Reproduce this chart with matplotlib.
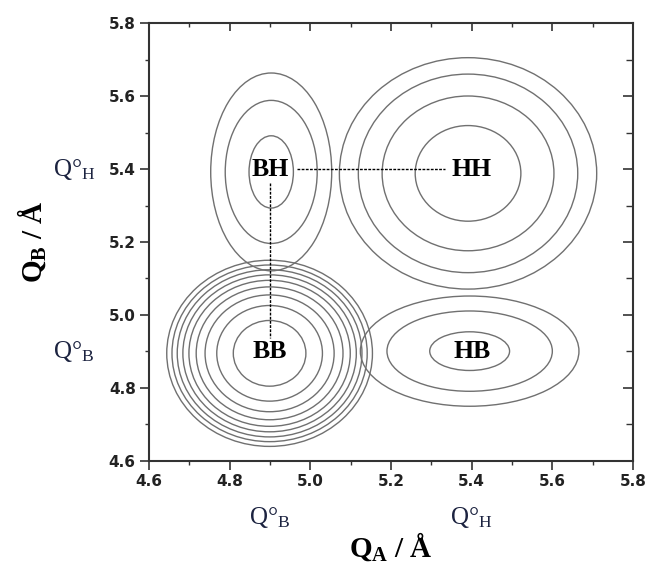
import matplotlib
matplotlib.use('Agg')
import matplotlib.pyplot as plt
from matplotlib.patches import Ellipse
from matplotlib.ticker import MultipleLocator

plt.rcParams['mathtext.fontset'] = 'custom'
plt.rcParams['mathtext.rm'] = 'Liberation Serif'
plt.rcParams['mathtext.bf'] = 'Liberation Serif:bold'
plt.rcParams['mathtext.it'] = 'Liberation Serif:italic'

# ---- data ----
labels = ['BH', 'HH', 'BB', 'HB']
label_x = [4.90, 5.40, 4.90, 5.40]
label_y = [5.40, 5.40, 4.90, 4.90]

center_x = [4.903, 5.391, 4.899, 5.395]
center_y = [5.392, 5.388, 4.895, 4.901]

# contour semi-axes (x, y) in Å for each well
bh_rx = [0.055, 0.114, 0.150]
bh_ry = [0.099, 0.196, 0.271]
hh_rx = [0.131, 0.213, 0.272, 0.319]
hh_ry = [0.131, 0.212, 0.272, 0.317]
bb_rx = [0.090, 0.131, 0.160, 0.182, 0.200, 0.215, 0.229, 0.242, 0.255]
bb_ry = [0.090, 0.131, 0.160, 0.182, 0.200, 0.215, 0.229, 0.242, 0.255]
hb_rx = [0.099, 0.205, 0.271]
hb_ry = [0.053, 0.110, 0.151]

radii_x = [bh_rx, hh_rx, bb_rx, hb_rx]
radii_y = [bh_ry, hh_ry, bb_ry, hb_ry]

# dotted connectors
h_line_x = [4.968, 5.335]
h_line_y = [5.400, 5.400]
v_line_x = [4.900, 4.900]
v_line_y = [5.362, 4.937]

xticks = [4.6, 4.8, 5.0, 5.2, 5.4, 5.6, 5.8]
yticks = [4.6, 4.8, 5.0, 5.2, 5.4, 5.6, 5.8]
ref_labels_x = [4.9, 5.4]
ref_labels_text_x = ['Q°$_{\\mathrm{B}}$', 'Q°$_{\\mathrm{H}}$']
ref_labels_y = [5.4, 4.9]
ref_labels_text_y = ['Q°$_{\\mathrm{H}}$', 'Q°$_{\\mathrm{B}}$']

# ---- figure ----
fig = plt.figure(figsize=(6.49, 5.63), dpi=100)
ax = fig.add_axes([149/649, (563-461)/563, 484/649, 438/563])

line_col = '#707070'
for cx, cy, rxs, rys in zip(center_x, center_y, radii_x, radii_y):
    for rx, ry in zip(rxs, rys):
        ax.add_patch(Ellipse((cx, cy), 2*rx, 2*ry, fill=False,
                             edgecolor=line_col, lw=1.0))

ax.plot(h_line_x, h_line_y, color='black', lw=1.0, linestyle=(0, (2, 1)))
ax.plot(v_line_x, v_line_y, color='black', lw=1.0, linestyle=(0, (2, 1)))

for t, x, y in zip(labels, label_x, label_y):
    ax.text(x, y, t, ha='center', va='center', fontsize=18.5,
            fontweight='bold', family='Liberation Serif', color='black')

ax.set_xlim(4.6, 5.8)
ax.set_ylim(4.6, 5.8)
ax.set_xticks(xticks)
ax.set_yticks(yticks)
ax.set_xticklabels([f'{v:.1f}' for v in xticks])
ax.set_yticklabels([f'{v:.1f}' for v in yticks])
ax.xaxis.set_minor_locator(MultipleLocator(0.1))
ax.yaxis.set_minor_locator(MultipleLocator(0.1))

for lab in ax.get_xticklabels() + ax.get_yticklabels():
    lab.set_fontfamily('DejaVu Sans')
    lab.set_fontweight('bold')
    lab.set_fontsize(11)
    lab.set_color('#222222')

ax.tick_params(axis='both', which='major', direction='out', length=6.5,
               width=1.2, color='#333333', pad=3)
ax.tick_params(axis='both', which='minor', direction='out', length=3,
               width=1.0, color='#333333')
for s in ax.spines.values():
    s.set_linewidth(1.5)
    s.set_color('#333333')

# inward ticks on top/right via secondary axes
sx = ax.secondary_xaxis('top')
sx.set_xticks(xticks)
sx.xaxis.set_minor_locator(MultipleLocator(0.1))
sx.tick_params(which='major', direction='in', length=6, width=1.2, color='#333333', labeltop=False)
sx.tick_params(which='minor', direction='in', length=3, width=1.0, color='#333333')
sx.spines['top'].set_visible(False)
sy = ax.secondary_yaxis('right')
sy.set_yticks(yticks)
sy.yaxis.set_minor_locator(MultipleLocator(0.1))
sy.tick_params(which='major', direction='in', length=7, width=1.2, color='#333333', labelright=False)
sy.tick_params(which='minor', direction='in', length=5, width=1.0, color='#333333')
sy.spines['right'].set_visible(False)

ax.set_xlabel(r'$\mathbf{Q_A}$ / Å', fontsize=21, fontweight='bold',
              family='Liberation Serif', labelpad=30)
ax.set_ylabel(r'$\mathbf{Q_B}$ / Å', fontsize=21, fontweight='bold',
              family='Liberation Serif', labelpad=44)

for x, t in zip(ref_labels_x, ref_labels_text_x):
    ax.text(x, -0.128, t, transform=ax.get_xaxis_transform(), ha='center',
            va='center', fontsize=18, family='Liberation Serif', color='#1c2340')
for y, t in zip(ref_labels_y, ref_labels_text_y):
    ax.text(-0.155, y, t, transform=ax.get_yaxis_transform(), ha='center',
            va='center', fontsize=18, family='Liberation Serif', color='#1c2340')

fig.savefig('out.png', dpi=100, facecolor='white')
